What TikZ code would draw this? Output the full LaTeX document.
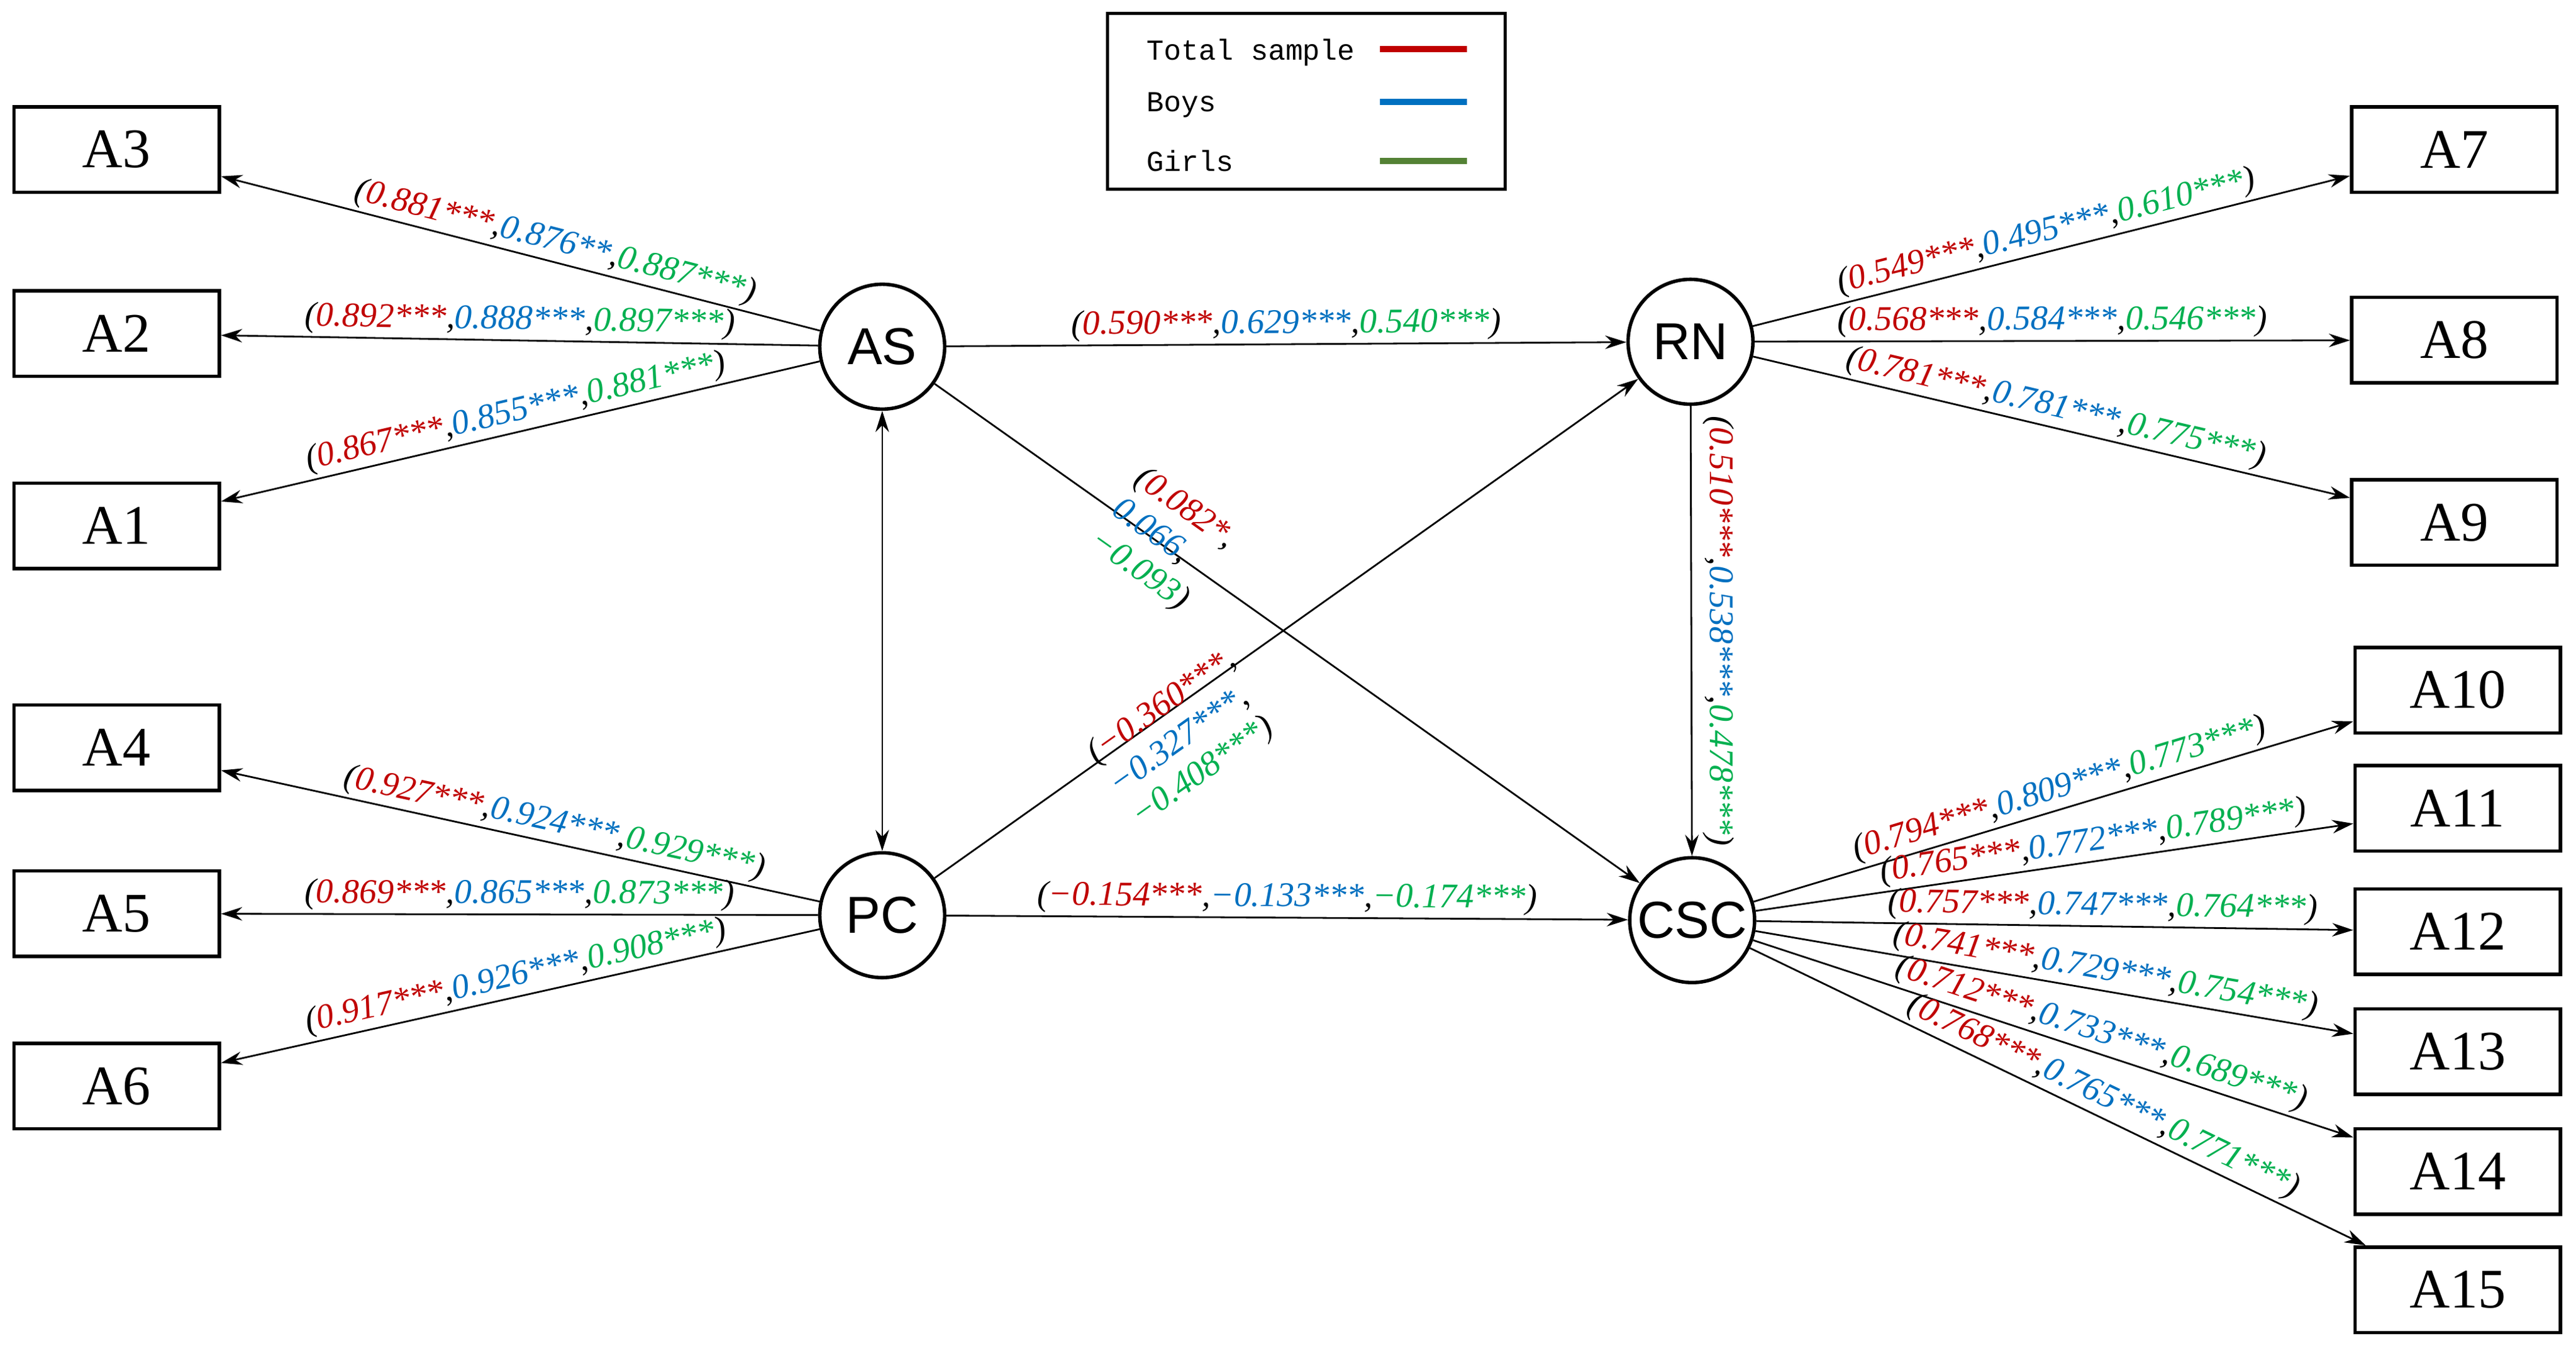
\documentclass[tikz,border=0pt]{standalone}
\usepackage{fontspec}
\setmainfont{Liberation Serif}
\newfontfamily\sansf{Liberation Sans}
\newfontfamily\monof{Liberation Mono}
\usetikzlibrary{arrows.meta}
\definecolor{cr}{HTML}{C00000}
\definecolor{cb}{HTML}{0070C0}
\definecolor{cg}{HTML}{00B050}
\definecolor{lg}{HTML}{548235}
\newcommand\lab[3]{(\textcolor{cr}{#1},\textcolor{cb}{#2},\textcolor{cg}{#3})}
\begin{document}
\begin{tikzpicture}[x=0.03cm,y=-0.03cm,
  box/.style={draw,line width=1.8pt,minimum width=3.75cm,minimum height=1.56cm,inner sep=0pt,font=\fontsize{29}{30}\selectfont},
  lat/.style={draw,circle,line width=1.8pt,minimum size=2.28cm,inner sep=0pt,font=\sansf\fontsize{27}{28}\selectfont},
  arr/.style={line width=0.9pt,-{Stealth[length=11pt,width=7pt]}},
  lb/.style={font=\fontsize{18}{20}\selectfont\itshape,inner sep=1.5pt},
  lab/.style={lb,sloped,above}]
\useasboundingbox (0,0) rectangle (1568,819);
% legend
\node[draw,line width=1.6pt,minimum width=7.26cm,minimum height=3.21cm,inner sep=0] (leg) at (795,61.5) {};
\node[font=\monof\fontsize{15}{16}\selectfont,anchor=west] (l1) at (694,32) {Total sample};
\node[font=\monof\fontsize{15}{16}\selectfont,anchor=west] (l2) at (694,64) {Boys};
\node[font=\monof\fontsize{15}{16}\selectfont,anchor=west] (l3) at (694,98) {Girls};
\coordinate (r1) at (840,30); \coordinate (r2) at (893,30);
\coordinate (b1) at (840,62); \coordinate (b2) at (893,62);
\coordinate (g1) at (840,98); \coordinate (g2) at (893,98);
\draw[cr,line width=3.2pt] (r1)--(r2);
\draw[cb,line width=3.2pt] (b1)--(b2);
\draw[lg,line width=3.2pt] (g1)--(g2);
% boxes
\node[box] (A3) at (71,91) {A3};
\node[box] (A2) at (71,203) {A2};
\node[box] (A1) at (71,320) {A1};
\node[box] (A4) at (71,455) {A4};
\node[box] (A5) at (71,556) {A5};
\node[box] (A6) at (71,661) {A6};
\node[box] (A7) at (1494,91) {A7};
\node[box] (A8) at (1494,207) {A8};
\node[box] (A9) at (1494,318) {A9};
\node[box] (A10) at (1496,420) {A10};
\node[box] (A11) at (1496,492) {A11};
\node[box] (A12) at (1496,567) {A12};
\node[box] (A13) at (1496,640) {A13};
\node[box] (A14) at (1496,713) {A14};
\node[box] (A15) at (1496,785) {A15};
% latent
\node[lat] (AS) at (537,211) {AS};
\node[lat] (PC) at (537,557) {PC};
\node[lat] (RN) at (1029,208) {RN};
\node[lat] (CSC) at (1030,560) {CSC};
% indicator edges
\draw[arr] (AS) -- node[lab,pos=0.45]{\lab{0.881***}{0.876**}{0.887***}} (A3);
\draw[arr] (AS) -- node[lab]{\lab{0.892***}{0.888***}{0.897***}} (A2);
\draw[arr] (AS) -- node[lab]{\lab{0.867***}{0.855***}{0.881***}} (A1);
\draw[arr] (PC) -- node[lab,pos=0.45]{\lab{0.927***}{0.924***}{0.929***}} (A4);
\draw[arr] (PC) -- node[lab]{\lab{0.869***}{0.865***}{0.873***}} (A5);
\draw[arr] (PC) -- node[lab]{\lab{0.917***}{0.926***}{0.908***}} (A6);
\draw[arr] (RN) -- node[lab]{\lab{0.549***}{0.495***}{0.610***}} (A7);
\draw[arr] (RN) -- node[lab]{\lab{0.568***}{0.584***}{0.546***}} (A8);
\draw[arr] (RN) -- node[lab]{\lab{0.781***}{0.781***}{0.775***}} (A9);
\draw[arr] (CSC) -- node[lab,pos=0.52]{\lab{0.794***}{0.809***}{0.773***}} (A10);
\draw[arr] (CSC) -- node[lab,pos=0.57]{\lab{0.765***}{0.772***}{0.789***}} (A11);
\draw[arr] (CSC) -- node[lab,pos=0.58]{\lab{0.757***}{0.747***}{0.764***}} (A12);
\draw[arr] (CSC) -- node[lab,pos=0.58]{\lab{0.741***}{0.729***}{0.754***}} (A13);
\draw[arr] (CSC) -- node[lab,pos=0.57]{\lab{0.712***}{0.733***}{0.689***}} (A14);
\draw[arr] (CSC) -- node[lab,pos=0.56]{\lab{0.768***}{0.765***}{0.771***}} (A15);
% structural
\draw[arr] (AS) -- node[lab]{\lab{0.590***}{0.629***}{0.540***}} (RN);
\draw[arr] (PC) -- node[lab]{\lab{−0.154***}{−0.133***}{−0.174***}} (CSC);
\draw[arr] (AS) -- node[lb,sloped,pos=0.32,align=left,yshift=2pt]{(\textcolor{cr}{0.082*},\\\textcolor{cb}{0.066},\\\textcolor{cg}{−0.093})} (CSC);
\draw[arr] (PC) -- node[lb,sloped,pos=0.33,align=left,yshift=-16pt]{(\textcolor{cr}{−0.360***},\\\textcolor{cb}{−0.327***},\\\textcolor{cg}{−0.408***})} (RN);
\draw[arr] (RN) -- (CSC);
\node[lb,rotate=-90] (rnl) at (1046,384) {\lab{0.510***}{0.538***}{0.478***}};
\draw[line width=0.9pt,{Stealth[length=11pt,width=7pt]}-{Stealth[length=11pt,width=7pt]}] (AS) -- (PC);
\end{tikzpicture}
\end{document}
